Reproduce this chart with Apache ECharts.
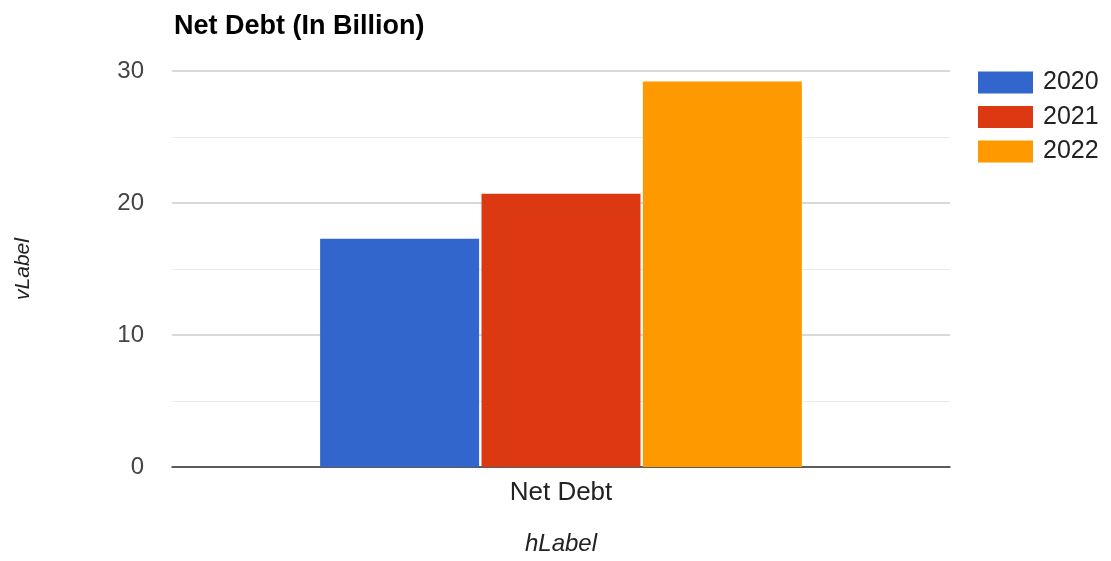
<!DOCTYPE html>
<html>
<head>
<meta charset="utf-8">
<script src="https://cdn.jsdelivr.net/npm/echarts@6/dist/echarts.min.js"></script>
<style>
  html, body { margin: 0; padding: 0; background: #fff; }
  #chart { width: 1111px; height: 561px; }
</style>
</head>
<body>
<div id="chart"></div>
<script>
// Net debt figures, in billions
const categories = ['Net Debt'];
const years = ['2020', '2021', '2022'];
const values2020 = [17.3];
const values2021 = [20.7];
const values2022 = [29.2];
const yTicks = [0, 10, 20, 30];

const colors = ['#3366cc', '#dc3912', '#ff9900'];
const seriesValues = [values2020, values2021, values2022];
const font = 'Arial, "Liberation Sans", sans-serif';

const chart = echarts.init(document.getElementById('chart'), null, { renderer: 'canvas' });

chart.setOption({
  animation: false,
  color: colors,
  title: {
    text: 'Net Debt (In Billion)',
    left: 169,
    top: 8,
    textStyle: { fontFamily: font, fontSize: 27, fontWeight: 'bold', color: '#000' }
  },
  legend: {
    orient: 'vertical',
    left: 978,
    top: 70,
    padding: 0,
    itemWidth: 55,
    itemHeight: 22,
    itemGap: 9.5,
    icon: 'rect',
    data: years,
    textStyle: { fontFamily: font, fontSize: 25, lineHeight: 22, color: '#222', padding: [0, 0, 0, 5] }
  },
  grid: { left: 172, right: 161, top: 71, bottom: 91 },
  xAxis: {
    type: 'category',
    data: categories,
    name: 'hLabel',
    nameLocation: 'middle',
    nameGap: 65,
    nameTextStyle: { fontFamily: font, fontSize: 24, fontStyle: 'italic', color: '#222' },
    axisLine: { show: true, lineStyle: { color: '#333', width: 1.5 } },
    axisTick: { show: false },
    axisLabel: { fontFamily: font, fontSize: 26, color: '#222', margin: 13 }
  },
  yAxis: {
    type: 'value',
    min: yTicks[0],
    max: yTicks[yTicks.length - 1],
    interval: 10,
    name: 'vLabel',
    nameLocation: 'middle',
    nameGap: 138,
    nameTextStyle: { fontFamily: font, fontSize: 21, fontStyle: 'italic', color: '#222' },
    axisLine: { show: false },
    axisTick: { show: false },
    axisLabel: { fontFamily: font, fontSize: 24, color: '#444', margin: 28 },
    splitLine: { show: true, lineStyle: { color: '#cccccc', width: 1.5 } },
    minorTick: { show: false, splitNumber: 2 },
    minorSplitLine: { show: true, lineStyle: { color: '#ebebeb', width: 1 } }
  },
  series: years.map((y, i) => ({
    name: y,
    type: 'bar',
    data: seriesValues[i],
    barWidth: 159,
    barGap: '1.5%',
    itemStyle: { color: colors[i] }
  }))
});
</script>
</body>
</html>
